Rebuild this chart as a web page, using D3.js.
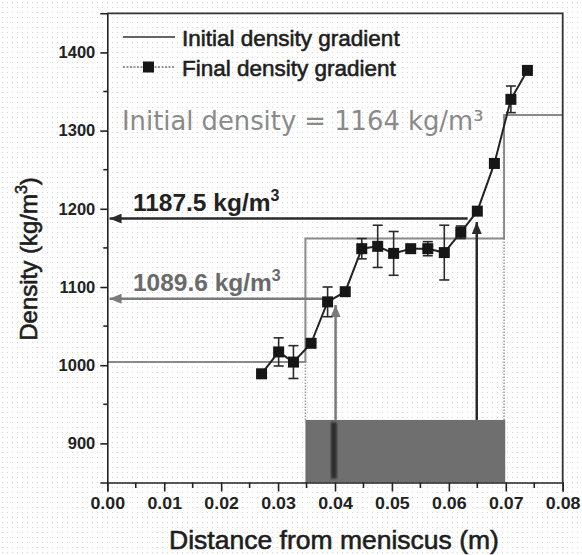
<!DOCTYPE html>
<html>
<head>
<meta charset="utf-8">
<title>Density gradient</title>
<script src="https://d3js.org/d3.v7.min.js"></script>
<style>
    body {
        margin: 0;
        background: #fff;
        font-family: 'Liberation Sans', Arial, sans-serif;
    }
    .axis path, .axis line {
        stroke: #222;
        stroke-width: 1.6px;
    }
    .axis text {
        font-family: 'Liberation Sans', Arial, sans-serif;
        font-weight: bold;
        font-size: 16.5px;
        fill: #222;
    }
    .heavy {
        stroke-width: 0.6px;
    }
</style>
</head>
<body>
<svg id="chart" width="582" height="555"></svg>
<script>
    // final density gradient (measured points)
    const distance = [0.0271, 0.0301, 0.0327, 0.0358, 0.0387, 0.0418, 0.0447, 0.0475, 0.0503,
                      0.0533, 0.0563, 0.0592, 0.0621, 0.0650, 0.0680, 0.0709, 0.0738];
    const density = [989, 1017, 1004, 1028, 1081, 1094, 1149, 1152, 1143,
                     1149, 1149, 1144, 1170, 1197, 1258, 1340, 1377];
    const densityErr = [0, 18, 21, 0, 19, 0, 13, 27, 28, 0, 9, 35, 8, 0, 0, 17, 0];

    // initial density gradient (three layers)
    const stepBoundaries = [0, 0.0348, 0.0697, 0.08];
    const stepDensity = [1004, 1162, 1320, 1320];

    // tube photo strip and the dark band in it
    const tubeX = [0.0348, 0.0699];
    const tubeDensity = [850, 930];
    const bandX = 0.0398;
    const bandDensity = [855, 927];

    // read-off arrows
    const arrowX = [0.0401, 0.0649];
    const arrowTip = [1077, 1183];
    const arrowLevel = [1085, 1187.5];
    const arrowStart = [0.0382, 0.0633];
    const arrowLabels = ["1089.6 kg/m", "1187.5 kg/m"];
    const arrowColors = ["#7a7a7a", "#2a2a2a"];

    const xTicks = [0, 0.01, 0.02, 0.03, 0.04, 0.05, 0.06, 0.07, 0.08];
    const yTicks = [900, 1000, 1100, 1200, 1300, 1400];

    var svg = d3.select("svg#chart"),
        width = +svg.attr("width"),
        height = +svg.attr("height");
    const margin = {top: 13.3, right: 19.3, bottom: 72.5, left: 107.3};

    var x = d3.scaleLinear().domain([0, 0.08]).range([margin.left, width - margin.right]);
    var y = d3.scaleLinear().domain([850, 1450]).range([height - margin.bottom, margin.top]);

    // faint scan dots in the background
    var defs = svg.append("defs");
    var pat = defs.append("pattern").attr("id", "dots")
        .attr("width", 5).attr("height", 5).attr("patternUnits", "userSpaceOnUse");
    pat.append("rect").attr("x", 2).attr("y", 2).attr("width", 1).attr("height", 1).attr("fill", "#d4d4d4");
    svg.append("rect").attr("width", width).attr("height", height).attr("fill", "url(#dots)");

    defs.append("filter").attr("id", "soft")
        .append("feGaussianBlur").attr("stdDeviation", 1.2);

    arrowColors.forEach((c, i) => {
        defs.append("marker").attr("id", "head" + i)
            .attr("viewBox", "0 0 12 10")
            .attr("refX", 12).attr("refY", 5)
            .attr("markerWidth", 12).attr("markerHeight", 10)
            .attr("markerUnits", "userSpaceOnUse")
            .attr("orient", "auto")
            .append("path").attr("d", "M0,0L12,5L0,10Z").attr("fill", c);
    });

    // tube strip
    svg.append("rect")
        .attr("x", x(tubeX[0])).attr("y", y(tubeDensity[1]))
        .attr("width", x(tubeX[1]) - x(tubeX[0]))
        .attr("height", y(tubeDensity[0]) - y(tubeDensity[1]))
        .attr("fill", "#6f6f6f");
    svg.append("rect")
        .attr("x", x(bandX) - 3).attr("y", y(bandDensity[1]))
        .attr("width", 6)
        .attr("height", y(bandDensity[0]) - y(bandDensity[1]))
        .attr("fill", "#2e2e2e")
        .attr("filter", "url(#soft)");

    // dotted guides from the strip up to the layer steps
    svg.append("line")
        .attr("x1", x(stepBoundaries[1])).attr("x2", x(stepBoundaries[1]))
        .attr("y1", y(tubeDensity[1])).attr("y2", y(stepDensity[0]))
        .attr("stroke", "#999").attr("stroke-width", 1.5).attr("stroke-dasharray", "1.5,1.5");
    svg.append("line")
        .attr("x1", x(stepBoundaries[2])).attr("x2", x(stepBoundaries[2]))
        .attr("y1", y(tubeDensity[1])).attr("y2", y(stepDensity[1]))
        .attr("stroke", "#999").attr("stroke-width", 1.5).attr("stroke-dasharray", "1.5,1.5");

    // initial gradient
    var stepLine = d3.line().x((d, i) => x(stepBoundaries[i])).y(d => y(d)).curve(d3.curveStepAfter);
    svg.append("path")
        .datum(stepDensity)
        .attr("d", stepLine)
        .attr("fill", "none")
        .attr("stroke", "#8a8a8a")
        .attr("stroke-width", 2);

    // arrows
    arrowX.forEach((ax, i) => {
        svg.append("line")
            .attr("x1", x(ax)).attr("x2", x(ax))
            .attr("y1", y(tubeDensity[1])).attr("y2", y(arrowTip[i]))
            .attr("stroke", arrowColors[i]).attr("stroke-width", 2.5)
            .attr("marker-end", "url(#head" + i + ")");
        svg.append("line")
            .attr("x1", x(arrowStart[i])).attr("x2", x(0.0004))
            .attr("y1", y(arrowLevel[i])).attr("y2", y(arrowLevel[i]))
            .attr("stroke", arrowColors[i]).attr("stroke-width", 2.5)
            .attr("marker-end", "url(#head" + i + ")");
        var col = i == 0 ? "#6a6a6a" : "#222";
        var lab = svg.append("text")
            .attr("x", x(0.0045))
            .attr("y", y(arrowLevel[i]) - 8)
            .attr("font-size", "24.5px")
            .attr("font-weight", "bold")
            .attr("fill", col);
        lab.append("tspan").text(arrowLabels[i]);
        lab.append("tspan").attr("dy", -10).attr("font-size", "16px").text("3");
    });

    // final gradient line, error bars, squares
    var finalLine = d3.line().x((d, i) => x(distance[i])).y(d => y(d));
    svg.append("path")
        .datum(density)
        .attr("d", finalLine)
        .attr("fill", "none")
        .attr("stroke", "#222")
        .attr("stroke-width", 2);

    var err = svg.append("g").attr("stroke", "#2a2a2a").attr("stroke-width", 1.6);
    density.forEach((d, i) => {
        if (!densityErr[i]) return;
        var cx = x(distance[i]), lo = y(d - densityErr[i]), hi = y(d + densityErr[i]);
        err.append("line").attr("x1", cx).attr("x2", cx).attr("y1", lo).attr("y2", hi);
        err.append("line").attr("x1", cx - 5).attr("x2", cx + 5).attr("y1", lo).attr("y2", lo);
        err.append("line").attr("x1", cx - 5).attr("x2", cx + 5).attr("y1", hi).attr("y2", hi);
    });

    svg.append("g").selectAll("rect")
        .data(density)
        .enter()
        .append("rect")
        .attr("x", (d, i) => x(distance[i]) - 5.5)
        .attr("y", d => y(d) - 5.5)
        .attr("width", 11)
        .attr("height", 11)
        .attr("fill", "#161616");

    // axes
    var xAxis = d3.axisBottom(x).tickValues(xTicks).tickFormat(d3.format(".2f")).tickSize(9).tickPadding(6);
    var gx = svg.append("g").attr("class", "axis")
        .attr("transform", "translate(0," + (height - margin.bottom) + ")")
        .call(xAxis);
    gx.selectAll(".tick text").attr("transform", "scale(1.08,1)");
    gx.selectAll(".minor").data(d3.range(0.005, 0.08, 0.01)).enter()
        .append("line").attr("class", "minor")
        .attr("x1", d => x(d)).attr("x2", d => x(d)).attr("y1", 0).attr("y2", 5.5);

    var yAxis = d3.axisLeft(y).tickValues(yTicks).tickFormat(d3.format("d")).tickSize(7).tickPadding(5);
    var gy = svg.append("g").attr("class", "axis")
        .attr("transform", "translate(" + margin.left + ",0)")
        .call(yAxis);
    gy.selectAll(".minor").data(d3.range(950, 1450, 100)).enter()
        .append("line").attr("class", "minor")
        .attr("x1", -4).attr("x2", 0).attr("y1", d => y(d)).attr("y2", d => y(d));

    // frame top + right
    svg.append("path")
        .attr("d", "M" + x(0) + "," + y(1450) + "H" + x(0.08) + "V" + y(850))
        .attr("fill", "none").attr("stroke", "#333").attr("stroke-width", 1.8);

    // axis titles
    svg.append("text")
        .attr("class", "heavy")
        .attr("x", (x(0) + x(0.08)) / 2 - 1)
        .attr("y", 549)
        .attr("text-anchor", "middle")
        .attr("font-size", "26.5px")
        .attr("fill", "#1e1e1e").attr("stroke", "#1e1e1e")
        .text("Distance from meniscus (m)");

    var yt = svg.append("text")
        .attr("class", "heavy")
        .attr("transform", "translate(37," + 259 + ") rotate(-90)")
        .attr("text-anchor", "middle")
        .attr("font-size", "24px")
        .attr("fill", "#1e1e1e").attr("stroke", "#1e1e1e");
    yt.append("tspan").text("Density (kg/m");
    yt.append("tspan").attr("dy", -10).attr("font-size", "16px").text("3");
    yt.append("tspan").attr("dy", 10).text(")");

    // legend
    var legend = svg.append("g");
    legend.append("line").attr("x1", 123).attr("x2", 175).attr("y1", 37).attr("y2", 37)
        .attr("stroke", "#333").attr("stroke-width", 1.6);
    legend.append("line").attr("x1", 123).attr("x2", 175).attr("y1", 67).attr("y2", 67)
        .attr("stroke", "#777").attr("stroke-width", 1.6).attr("stroke-dasharray", "2,1.5");
    legend.append("rect").attr("x", 143).attr("y", 61.5).attr("width", 11).attr("height", 11).attr("fill", "#161616");
    legend.append("text").attr("class", "heavy").attr("x", 182).attr("y", 46).attr("font-size", "22.5px")
        .attr("fill", "#1e1e1e").attr("stroke", "#1e1e1e")
        .text("Initial density gradient");
    legend.append("text").attr("class", "heavy").attr("x", 182).attr("y", 76).attr("font-size", "22.5px")
        .attr("fill", "#1e1e1e").attr("stroke", "#1e1e1e")
        .text("Final density gradient");

    svg.append("text")
        .attr("x", 122).attr("y", 130)
        .attr("font-family", "'DejaVu Sans', sans-serif")
        .attr("font-size", "25.8px")
        .attr("fill", "#8a8a8a")
        .text("Initial density = 1164 kg/m³");
</script>
</body>
</html>
